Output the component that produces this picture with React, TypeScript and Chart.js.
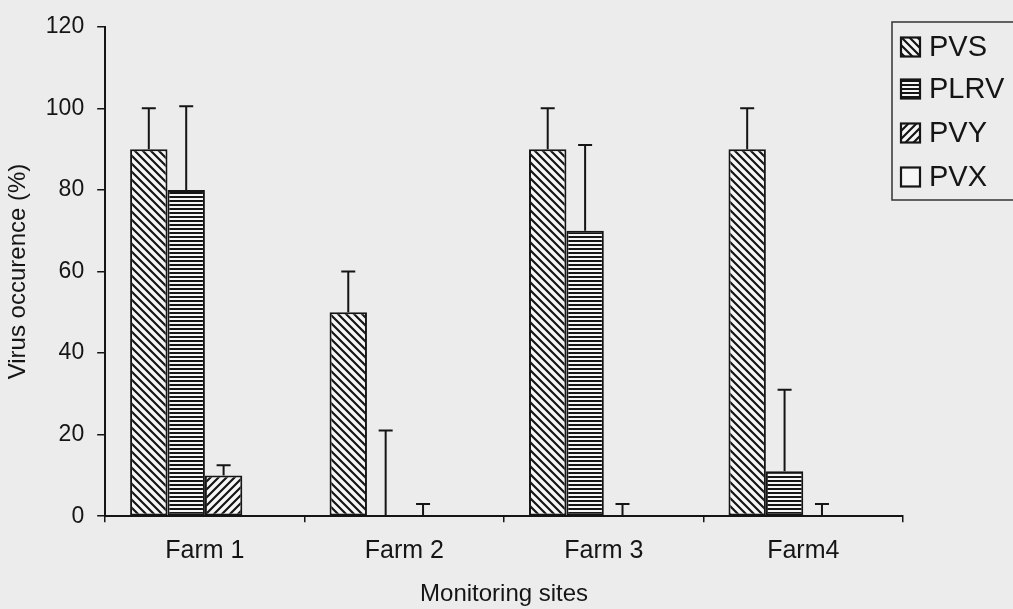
import { useEffect, useRef } from "react";
import { Chart, registerables } from "chart.js";

Chart.register(...registerables);

// Monitoring sites and virus types
const sites = ["Farm 1", "Farm 2", "Farm 3", "Farm4"];
const viruses = ["PVS", "PLRV", "PVY", "PVX"];

// Occurrence (%) per virus at each site
const pvsValues = [90, 50, 90, 90];
const plrvValues = [80, 0, 70, 11];
const pvyValues = [10, 0, 0, 0];
const pvxValues = [0, 0, 0, 0];

// Upper error (%) per virus at each site
const pvsErrors = [10, 10, 10, 10];
const plrvErrors = [20.5, 21, 21, 20];
const pvyErrors = [2.5, 3, 3, 3];
const pvxErrors = [0, 0, 0, 0];

const yTickStep = 20;
const yMax = 120;

const INK = "#151515";
const PAPER = "#ececec";
const FILL_LIGHT = "#f6f6f6";
const FONT = "'Liberation Sans', Arial, sans-serif";

type PatternKind = "back" | "horiz" | "fwd" | "none";

function makePattern(kind: PatternKind): CanvasPattern | string {
  if (kind === "none") return FILL_LIGHT;
  const tile = document.createElement("canvas");
  const size = kind === "horiz" ? 4 : 8;
  tile.width = size;
  tile.height = size;
  const c = tile.getContext("2d")!;
  c.fillStyle = FILL_LIGHT;
  c.fillRect(0, 0, size, size);
  c.strokeStyle = INK;
  c.fillStyle = INK;
  if (kind === "horiz") {
    c.fillRect(0, 0, size, 2);
    return c.createPattern(tile, "repeat")!;
  }
  c.lineWidth = 2.2;
  c.beginPath();
  if (kind === "back") {
    c.moveTo(-1, -1);
    c.lineTo(size + 1, size + 1);
    c.moveTo(-2, size - 2);
    c.lineTo(2, size + 2);
    c.moveTo(size - 2, -2);
    c.lineTo(size + 2, 2);
  } else {
    c.moveTo(-1, size + 1);
    c.lineTo(size + 1, -1);
    c.moveTo(-2, 2);
    c.lineTo(2, -2);
    c.moveTo(size - 2, size + 2);
    c.lineTo(size + 2, size - 2);
  }
  c.stroke();
  return c.createPattern(tile, "repeat")!;
}

// Paper-coloured background behind everything
const paperBackground = {
  id: "paperBackground",
  beforeDraw(chart: any) {
    const { ctx, width, height } = chart;
    ctx.save();
    ctx.fillStyle = PAPER;
    ctx.fillRect(0, 0, width, height);
    ctx.restore();
  },
};

// One-sided (upper) error bars with caps
const errorBars = {
  id: "errorBars",
  afterDatasetsDraw(chart: any) {
    const { ctx } = chart;
    const y = chart.scales.y;
    ctx.save();
    ctx.strokeStyle = INK;
    ctx.lineWidth = 2;
    chart.data.datasets.forEach((ds: any, i: number) => {
      const meta = chart.getDatasetMeta(i);
      meta.data.forEach((bar: any, j: number) => {
        const e = ds.errors ? ds.errors[j] : 0;
        if (!e) return;
        const top = y.getPixelForValue(ds.data[j] + e);
        const x = bar.x;
        ctx.beginPath();
        ctx.moveTo(x, bar.y);
        ctx.lineTo(x, top);
        ctx.moveTo(x - 7, top);
        ctx.lineTo(x + 7, top);
        ctx.stroke();
      });
    });
    ctx.restore();
  },
};

// Boxed legend in the upper right corner (its right side runs past the edge)
const boxedLegend = {
  id: "boxedLegend",
  afterDraw(chart: any) {
    const { ctx, width } = chart;
    const left = 892;
    const top = 22;
    const bottom = 200;
    ctx.save();
    ctx.fillStyle = PAPER;
    ctx.fillRect(left, top, width - left, bottom - top);
    ctx.strokeStyle = "#333";
    ctx.lineWidth = 1.5;
    ctx.strokeRect(left, top, width - left + 10, bottom - top);
    const rows = [47, 89, 133, 177];
    chart.data.datasets.forEach((ds: any, i: number) => {
      const cy = rows[i];
      const sq = 19;
      const sx = 901;
      const sy = cy - sq / 2;
      ctx.fillStyle = ds.backgroundColor;
      ctx.fillRect(sx, sy, sq, sq);
      ctx.strokeStyle = INK;
      ctx.lineWidth = 2.2;
      ctx.strokeRect(sx, sy, sq, sq);
      ctx.fillStyle = INK;
      ctx.font = `29px ${FONT}`;
      ctx.textBaseline = "middle";
      ctx.textAlign = "left";
      ctx.fillText(ds.label, 929, cy + 1);
    });
    ctx.restore();
  },
};

export default function App() {
  const canvasRef = useRef<HTMLCanvasElement | null>(null);

  useEffect(() => {
    document.body.style.margin = "0";
    const canvas = canvasRef.current;
    if (!canvas) return;

    const valueSets = [pvsValues, plrvValues, pvyValues, pvxValues];
    const errorSets = [pvsErrors, plrvErrors, pvyErrors, pvxErrors];
    const kinds: PatternKind[] = ["back", "horiz", "fwd", "none"];

    const chart = new Chart(canvas, {
      type: "bar",
      data: {
        labels: sites,
        datasets: viruses.map((name, i) => ({
          label: name,
          data: valueSets[i],
          errors: errorSets[i],
          backgroundColor: makePattern(kinds[i]),
          borderColor: INK,
          borderWidth: 2,
          borderSkipped: false,
          barPercentage: 1,
          categoryPercentage: 0.75,
        })) as any,
      },
      options: {
        animation: false,
        responsive: false,
        maintainAspectRatio: false,
        layout: { padding: { top: 13, right: 110, bottom: 0, left: 0 } },
        plugins: {
          legend: { display: false },
          tooltip: { enabled: false },
        },
        scales: {
          x: {
            grid: {
              offset: true,
              drawOnChartArea: false,
              drawTicks: true,
              tickLength: 6,
              color: INK,
              lineWidth: 1.5,
            },
            border: { display: true, color: INK, width: 2 },
            ticks: {
              color: INK,
              font: { family: FONT, size: 25 },
              padding: 14,
            },
            title: {
              display: true,
              text: "Monitoring sites",
              color: INK,
              font: { family: FONT, size: 24 },
              padding: { top: 0, bottom: 0 },
            },
          },
          y: {
            min: 0,
            max: yMax,
            grid: {
              drawOnChartArea: false,
              drawTicks: true,
              tickLength: 8,
              color: INK,
              lineWidth: 1.5,
            },
            border: { display: true, color: INK, width: 2 },
            ticks: {
              stepSize: yTickStep,
              color: INK,
              font: { family: FONT, size: 23 },
              padding: 13,
            },
            title: {
              display: true,
              text: "Virus occurence (%)",
              color: INK,
              font: { family: FONT, size: 24 },
              padding: { top: 4, bottom: 0 },
            },
          },
        },
      },
      plugins: [paperBackground, errorBars, boxedLegend],
    });

    return () => chart.destroy();
  }, []);

  return (
    <div style={{ width: 1013, height: 609 }}>
      <canvas ref={canvasRef} width={1013} height={609} style={{ display: "block" }} />
    </div>
  );
}
